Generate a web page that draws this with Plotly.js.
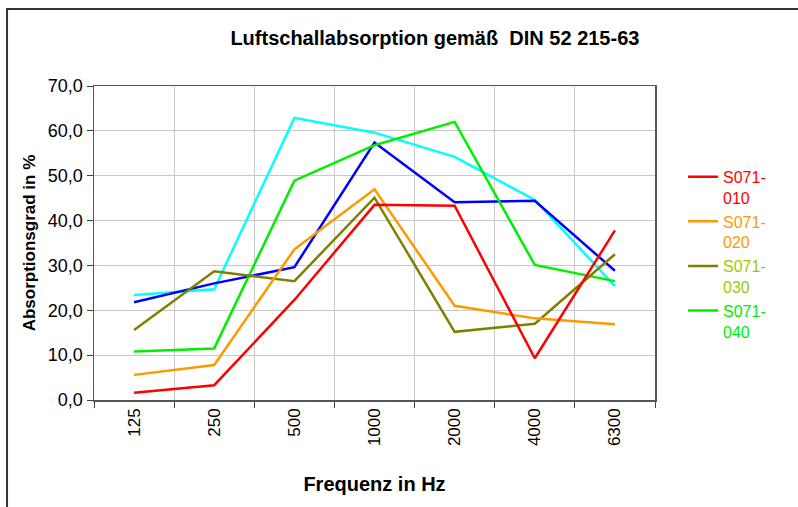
<!DOCTYPE html>
<html>
<head>
<meta charset="utf-8">
<script src="https://cdn.plot.ly/plotly-3.0.1.min.js"></script>
<style>html,body{margin:0;padding:0;background:#fff;}#chart{width:798px;height:507px;}</style>
</head>
<body>
<div id="chart"></div>
<script>
const categories = ["125", "250", "500", "1000", "2000", "4000", "6300"];
const s010 = [1.6, 3.3, 22.3, 43.5, 43.3, 9.3, 37.8];
const s020 = [5.6, 7.8, 33.6, 47.0, 21.0, 18.2, 16.9];
const s030 = [15.6, 28.7, 26.5, 45.1, 15.2, 17.0, 32.5];
const s040 = [10.8, 11.5, 48.9, 56.8, 62.0, 30.1, 26.5];
const sBlue = [21.8, 26.0, 29.6, 57.4, 44.1, 44.4, 28.8];
const sCyan = [23.4, 24.7, 62.9, 59.6, 54.2, 44.6, 25.4];
const yTicks = [0, 10, 20, 30, 40, 50, 60, 70];

function tr(y, color, name, textColor, show) {
  return {
    x: categories, y: y, type: "scatter", mode: "lines",
    line: {color: color, width: 2.5},
    name: show ? '<span style="color:' + textColor + '">' + name + '</span>' : name,
    showlegend: show, hoverinfo: "skip"
  };
}

const data = [
  tr(sCyan, "#00ffff", "cyan", "#00ffff", false),
  tr(sBlue, "#0000ff", "blue", "#0000ff", false),
  tr(s040, "#00ee00", "S071-<br>040", "#00ee00", true),
  tr(s030, "#808000", "S071-<br>030", "#99cc00", true),
  tr(s020, "#ff9900", "S071-<br>020", "#ff9900", true),
  tr(s010, "#ff0000", "S071-<br>010", "#ff0000", true)
];

const layout = {
  width: 798, height: 507,
  margin: {l: 94, r: 143, t: 86, b: 107},
  paper_bgcolor: "#ffffff", plot_bgcolor: "#ffffff",
  separators: ",.",
  font: {family: "Liberation Sans, Arial, sans-serif", color: "#000"},
  title: {
    text: "<b>Luftschallabsorption gemäß  DIN 52 215-63</b>",
    font: {size: 20, color: "#000"},
    x: 0.545, xref: "container", xanchor: "center",
    y: 0.925, yref: "container", yanchor: "middle"
  },
  xaxis: {
    type: "category",
    range: [-0.5, 6.5],
    tickson: "boundaries",
    ticks: "outside", ticklen: 6, tickcolor: "#404040",
    tickangle: -90,
    tickfont: {size: 17},
    showgrid: true, gridcolor: "#c8c8c8", gridwidth: 1,
    showline: true, linecolor: "#555555", linewidth: 1.5, mirror: true,
    title: {text: "\u00a0\u00a0\u00a0\u00a0<b>Frequenz in Hz</b>", font: {size: 20}, standoff: 32},
    automargin: false, fixedrange: true
  },
  yaxis: {
    range: [0, 70],
    tickvals: yTicks,
    tickformat: ".1f",
    ticks: "outside", ticklen: 6, tickcolor: "#404040",
    tickfont: {size: 18},
    showgrid: true, gridcolor: "#c8c8c8", gridwidth: 1,
    zeroline: false,
    showline: true, linecolor: "#555555", linewidth: 1.5, mirror: true,
    title: {text: "<b>Absorptionsgrad in %</b>", font: {size: 17}, standoff: 8},
    automargin: false, fixedrange: true
  },
  legend: {
    x: 1.05, y: 0.765, xanchor: "left", yanchor: "top",
    traceorder: "reversed",
    valign: "top",
    font: {size: 16},
    bgcolor: "rgba(0,0,0,0)",
    tracegroupgap: 0
  },
  shapes: [{
    type: "rect", xref: "paper", yref: "paper",
    x0: -0.155, x1: 1.4, y0: -0.5, y1: 1.245,
    line: {color: "#333333", width: 2}, fillcolor: "rgba(0,0,0,0)", layer: "below"
  }]
};

Plotly.newPlot("chart", data, layout, {displayModeBar: false, staticPlot: true});
</script>
</body>
</html>
